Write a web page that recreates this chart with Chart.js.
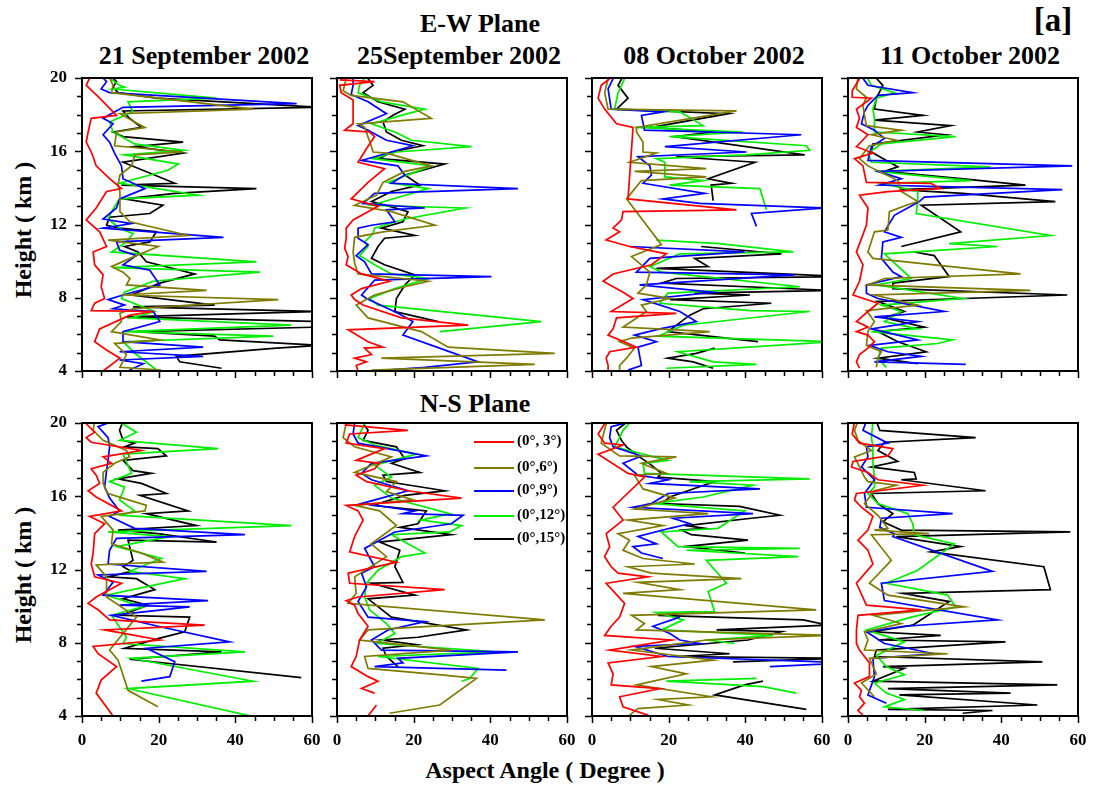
<!DOCTYPE html>
<html>
<head>
<meta charset="utf-8">
<script src="https://cdn.jsdelivr.net/npm/chart.js@4.4.1/dist/chart.umd.min.js"></script>
<style>
body { margin: 0; background: #fff; }
#wrap { position: relative; width: 1094px; height: 790px; font-family: "Liberation Serif", "Times New Roman", serif; font-weight: bold; color: #000; overflow: hidden; }
.t { position: absolute; white-space: nowrap; line-height: 1; transform: translateX(-50%); }
.ylab { position: absolute; white-space: nowrap; line-height: 1; font-size: 24px; transform: translate(-50%, -50%) rotate(-90deg); }
canvas { position: absolute; }
.leg { position: absolute; font-size: 15px; line-height: 1; white-space: nowrap; }
.leg span { display: inline-block; width: 40px; height: 0; border-top: 2px solid; vertical-align: middle; margin-right: 3px; }
</style>
</head>
<body>
<div id="wrap">
  <div class="t" style="left:480px;top:11px;font-size:26px;">E-W Plane</div>
  <div class="t" style="left:1053px;top:4px;font-size:33px;">[a]</div>
  <div class="t" style="left:475px;top:391px;font-size:26px;">N-S Plane</div>
  <div class="t" style="left:545px;top:758px;font-size:24px;">Aspect Angle ( Degree )</div>
  <div class="ylab" style="left:23px;top:230px;">Height ( km )</div>
  <div class="ylab" style="left:23px;top:575px;">Height ( km )</div>
</div>
<script>
// x ticks / y ticks
const angleTicks = [0, 20, 40, 60];
const heightTicks = [4, 8, 12, 16, 20];
const dates = ['21 September 2002', '25September 2002', '08 October 2002', '11 October 2002'];
const seriesLabels = ['(0°, 3°)', '(0°,6°)', '(0°,9°)', '(0°,12°)', '(0°,15°)'];
const seriesColors = ['#ff0000', '#7f7a00', '#0000ff', '#00ee00', '#000000'];

// profiles: pairs of height (km), aspect angle (deg); null,null = gap
// E-W plane, 21 Sep
const ew1Red = [20,2.0, 19.6,1.1, 18.9,4.6, 17.96,9.0, 17.8,2.4, 17.05,1.6, 16.5,1.1, 15.96,2.4, 15.7,2.9, 15.2,3.7, 14.5,7.2, 13.96,10.3, 13.8,6.4, 12.9,3.7, 12.25,1.1, 11.6,4.6, 10.8,6.4, 10.5,2.9, 9.8,3.3, 9.25,5.5, 8.6,5.0, 7.96,5.9, 7.7,3.3, 7.3,2.4, 7.25,18.6, 7.05,12.5, 6.3,4.6, 5.6,3.3, 5.15,6.4, 4.7,9.9, 4.0,5.5];
const ew1Olive = [20,7.2, 19.6,8.1, 19.2,7.7, 18.3,44.7, 18.05,9.9, 17.3,16.4, 17.05,9.0, 16.3,8.5, 15.96,26.4, 15.8,13.8, 15.2,12.9, 14.7,9.9, 14.15,9.4, 13.8,9.9, 12.7,9.9, 12.15,12.5, 11.4,27.7, 11.15,6.8, 10.8,19.9, 10.15,12.5, 9.7,7.7, 9.4,10.7, 9.05,12.5, 8.7,11.6, 8.4,32.5, 8.15,10.3, 7.9,51.2, 7.4,13.3, 7.15,9.9, 6.7,10.3, 6.15,7.7, 5.7,20.3, 5.5,8.5, 4.9,11.6, 4.2,9.9, 4.05,20.7];
const ew1Blue = [20,5.5, 19.8,6.4, 19.4,5.0, 19.2,7.2, 18.6,56.0, 18.4,10.7, 17.8,5.5, 17.5,8.1, 16.9,5.5, 16.5,7.2, 15.9,8.5, 15.2,10.3, 14.5,10.7, 13.96,16.4, 13.4,9.8, 12.9,9.0, 12.3,5.5, 12.05,12.9, 11.8,5.5, 11.3,36.9, 11.05,9.0, 10.6,9.8, 10.3,14.2, 9.8,10.7, 9.5,17.7, 8.7,20.3, 8.15,10.7, 7.9,6.8, 7.6,11.1, 7.4,8.1, 7.25,18.6, 6.7,20.3, 6.15,10.7, 5.6,10.7, 5.3,31.6, 5.05,9.8, 4.8,31.6, 4.6,9.8, 4.4,16.0, 4.05,12.4];
const ew1Green = [20,7.2, 19.6,9.8, 19.5,11.1, 19.4,8.1, 18.9,35.1, 18.7,12.0, 18.15,13.3, 17.6,7.2, 17.05,8.1, 16.4,13.7, 16.05,26.4, 15.8,11.1, 15.3,25.1, 14.96,22.4, 14.25,9.8, 14.05,16.8, 13.6,30.3, 13.4,9.8, 12.7,7.7, 12.3,6.8, 11.8,9.8, 11.5,13.3, 11.05,11.6, 10.5,7.7, 9.96,45.5, 9.65,8.1, 9.4,46.4, 8.9,18.5, 8.3,11.1, 7.96,10.3, 7.25,19.0, 6.9,12.9, 6.5,54.6, 6.15,11.1, 5.9,49.9, 5.6,10.7, 4.9,14.2, 4.0,19.8];
const ew1Black = [20,8.1, 19.8,9.0, 19.5,8.1, 19.2,9.4, 18.9,19.4, 18.4,62, 18.2,10.7, 17.8,12.4, 17.3,15.5, 17.05,8.1, 16.8,10.7, 16.5,26.4, 16.25,13.7, 15.9,26.4, 15.4,10.7, 14.25,24.2, 14.15,10.3, 13.96,45.5, 13.7,24.2, 13.4,11.1, 13.05,21.1, 12.6,17.7, 12.4,7.2, 11.96,6.4, 11.8,9.8, 11.6,19.4, 11.05,17.7, 10.8,11.1, 10.5,14.6, 9.96,16.8, 9.3,29.4, 8.8,20.3, 8.15,12.9, 7.6,34.6, 7.5,13.3, 7.25,62, 6.96,11.6, 6.7,62, 6.4,62, 6.15,14.2, 5.9,34.6, 5.7,35.9, 5.4,62, 5.25,50.7, 4.8,24.6, 4.5,25.5, 4.15,36.4];

// E-W plane, 25 Sep
const ew2Red = [19.9,0.7, 19.8,9.8, 19.6,0.7, 19.2,1.1, 18.8,4.2, 17.5,4.2, 17.3,2.9, 17.15,2.0, 17.05,8.5, 16.8,9.8, 16.15,7.7, 15.4,5.5, 15.05,12.4, 14.3,8.1, 13.4,3.7, 13.0,10.7, 12.25,4.2, 11.8,2.4, 11.25,2.4, 10.7,2.0, 10.25,2.9, 9.8,2.4, 9.3,6.4, 8.9,13.7, 8.5,6.4, 8.15,3.7, 7.9,4.6, 7.6,6.8, 6.9,16.8, 6.5,34.2, 6.25,2.9, 5.6,8.1, 5.3,12.0, 5.25,7.2, 4.9,9.0, 4.7,4.6, 4.5,7.7, 4.3,5.0, 4.0,5.5];
const ew2Olive = [19.96,2.4, 19.3,1.6, 19.05,3.7, 18.7,17.2, 17.8,24.6, 17.5,5.5, 17.3,7.2, 16.25,9.0, 15.96,9.4, 15.9,12.9, 15.2,24.6, 14.9,17.7, 14.3,12.0, 13.6,10.3, 13.05,4.6, 12.7,14.2, 11.96,25.5, 11.6,12.0, 11.3,4.6, 10.5,4.2, 9.9,4.6, 9.3,5.5, 8.9,23.8, 8.6,17.7, 8.15,9.8, 7.6,5.0, 6.9,8.1, 6.15,22.0, 5.3,29.0, 4.96,56.8, 4.7,11.6, 4.36,51.6, 4.05,9.0];
const ew2Blue = [20.1,4.2, 19.6,4.2, 19.1,3.7, 18.7,8.1, 18.05,12.9, 17.4,5.5, 17.15,8.1, 16.6,12.9, 16.3,19.8, 15.96,14.2, 15.5,6.4, 15.2,15.9, 14.7,17.7, 14.25,14.2, 13.96,47.2, 13.7,9.8, 13.15,6.8, 12.9,22.9, 12.8,12.9, 12.15,15.1, 11.96,9.0, 11.8,5.5, 11.25,5.5, 10.9,8.1, 10.3,5.0, 9.96,7.2, 9.3,9.0, 9.15,40.3, 8.96,9.8, 8.15,6.4, 7.96,7.7, 7.15,15.9, 6.7,19.8, 5.96,17.2, 4.5,36.8, 4.2,22.9, 4.05,12.9];
const ew2Green = [20,7.2, 19.6,5.9, 19.2,5.5, 18.7,11.6, 18.3,22.9, 17.96,16.8, 17.5,9.0, 17.05,15.1, 16.6,19.4, 16.25,35.1, 15.96,15.5, 15.6,9.4, 15.2,24.6, 14.3,13.3, 13.96,23.8, 13.05,9.0, 12.9,33.3, 12.3,17.7, 11.8,9.8, 11.5,9.4, 11.05,7.2, 10.8,8.1, 10.3,5.9, 9.8,9.8, 9.3,14.2, 9.05,23.8, 8.5,15.1, 7.96,8.5, 7.6,10.7, 6.7,53.3, 6.15,26.8];
const ew2Black = [19.96,8.1, 19.6,9.4, 19.2,6.8, 18.7,10.7, 18.3,17.7, 17.96,14.6, 17.6,12.0, 17.05,12.9, 16.6,16.8, 16.3,22.4, 15.96,14.2, 15.6,11.1, 15.3,28.1, 14.7,17.7, 14.15,21.6, 13.8,14.2, 13.25,9.0, 12.96,14.2, 12.7,18.5, 12.15,17.2, 11.8,11.6, 11.4,20.3, 11.25,12.4, 10.8,10.7, 10.15,9.0, 9.8,12.4, 9.25,20.3, 8.7,17.7, 7.96,15.5, 7.25,15.1, 6.7,26.4];

// E-W plane, 08 Oct
const ew3Red = [19.96,4.6, 19.6,2.4, 18.9,1.6, 18.3,3.3, 17.5,6.4, 17.3,10.7, 13.4,9.4, 12.8,37.7, 12.7,8.1, 12.25,7.7, 11.8,5.5, 11.6,7.2, 11.15,3.7, 10.8,9.8, 10.4,19.4, 9.8,15.5, 9.3,5.5, 8.9,2.9, 8.3,8.1, 7.96,10.7, 7.25,5.0, 7.15,22.0, 6.9,6.4, 6.3,5.5, 5.96,4.2, 5.3,11.6, 5.05,4.6, 4.7,3.7, 4.3,4.2, 4.05,4.2];
const ew3Olive = [19.96,4.2, 19.2,3.3, 18.3,4.2, 18.2,37.7, 17.3,11.6, 17.05,11.6, 16.5,13.3, 15.96,13.3, 15.9,16.8, 15.4,9.8, 15.05,29.8, 14.9,11.1, 14.6,29.8, 14.4,12.9, 13.4,9.0, 10.9,18.1, 10.25,10.3, 9.4,15.1, 8.7,14.2, 8.25,12.0, 7.96,20.3, 7.6,12.9, 7.25,14.2, 6.4,8.1, 6.15,30.7, 5.8,10.3, 5.6,7.2, 5.25,11.1, 4.7,9.0, 4.3,7.2, 4.05,7.2];
const ew3Blue = [19.96,5.5, 19.4,4.2, 18.3,5.0, 18.15,18.5, 17.96,12.9, 17.15,13.7, 16.9,54.6, 16.25,19.0, 15.96,40.3, 15.7,12.0, 15.2,15.1, 14.7,15.5, 14.25,13.3, 13.7,29.4, 13.4,18.5, 13.15,28.1, 12.9,60.7, 12.6,41.6, 11.9,42.9, null,null, 10.8,9.8, 10.5,39.8, 10.15,15.1, 9.4,11.6, 9.25,52.9, 8.7,12.4, 8.3,31.6, 7.9,13.3, 7.25,22.9, 6.7,27.2, 6.3,17.7, 5.96,11.1, 5.6,16.8, 5.3,12.0, 4.3,12.9, 4.05,9.4];
const ew3Green = [19.96,8.5, 19.2,6.8, 18.3,5.9, 18.15,22.9, 17.4,29.0, 17.3,11.1, 17.05,39.4, 16.8,20.3, 16.3,55.9, 16.05,56.8, 15.8,40.3, 15.6,16.8, 15.4,19.0, 14.6,19.0, 14.4,29.0, 14.15,20.3, 13.96,43.8, 12.8,45.5, null,null, 11.15,16.8, 10.96,33.3, 10.5,52.5, 10.4,22.9, 9.7,15.1, 9.4,18.1, 8.6,54.2, 8.25,19.8, 7.7,17.7, 7.3,41.2, 7.25,56.8, 6.5,23.8, 5.9,17.2, 5.6,62.9, 5.05,22.4, 4.5,31.6, 4.36,42.9, 4.15,19.4];
const ew3Black = [20.1,8.1, 19.6,6.8, 18.9,9.4, 18.3,6.4, 18.05,35.5, 17.3,15.5, 17.05,31.6, 16.8,21.6, 15.8,55.5, 15.7,22.0, 15.4,42.5, 14.5,30.3, 14.3,35.1, 14.25,36.4, 14.15,31.1, 13.3,31.6, null,null, 10.8,28.5, 10.4,49.4, 10.15,26.8, 9.7,30.3, 9.6,16.8, 9.15,66, 9.05,22.0, 8.8,18.1, 8.4,62.5, 8.25,26.8, 8.15,41.2, 7.9,20.3, 7.7,46.8, 7.4,29.0, 7.05,25.5, 6.15,19.8, 5.6,43.3, null,null, 5.25,32.0, 4.96,27.2, 4.7,19.8, 4.5,26.4, 4.15,31.6];

// E-W plane, 11 Oct
const ew4Red = [19.96,3.0, 19.3,1.1, 18.95,1.1, 18.9,6.1, 18.3,2.2, 17.8,3.0, 17.3,2.2, 16.9,5.2, 16.25,2.2, 15.9,6.5, 15.6,1.7, 15.2,3.9, 14.3,4.8, 14.25,21.6, 13.96,24.2, 13.8,10.4, 13.6,3.0, 12.9,5.2, 11.96,4.8, 10.5,2.2, 9.8,3.9, 8.9,3.0, 8.15,1.3, 7.7,7.8, 7.25,5.2, 6.7,2.2, 6.4,5.2, 6.15,2.2, 5.96,5.2, 5.6,6.9, 5.25,5.2, 4.9,3.0, 4.5,2.2, 4.15,3.0];
const ew4Olive = [20.1,2.6, 19.4,2.2, 18.95,4.8, 18.5,3.9, 17.96,4.3, 17.4,4.8, 17.15,13.9, 16.9,6.1, 16.6,12.6, 16.3,5.6, 15.6,3.0, 15.2,5.2, 14.4,13.0, 13.8,13.9, 13.25,18.2, 13.05,15.2, 12.7,10.8, 11.7,10.4, 11.6,6.9, 10.5,5.2, 10.15,6.5, 9.8,22.5, 9.3,45.0, 9.05,9.5, 8.7,5.2, 8.4,47.6, 8.15,6.9, 7.6,18.2, 7.3,4.8, 6.7,6.9, 6.15,5.2, 5.4,4.8, 5.05,8.7, 4.7,7.8, 4.2,7.4];
const ew4Blue = [20.1,3.5, 19.6,5.2, 19.2,16.9, 19.05,7.8, 18.5,5.2, 18.15,4.3, 17.5,3.5, 17.15,6.9, 16.7,9.5, 16.25,6.1, 15.5,5.2, 15.2,58.5, 14.9,7.8, 14.5,13.9, 14.15,8.2, 13.9,55.9, 13.5,19.9, 13.25,18.6, 12.5,12.1, 11.6,9.5, 11.3,13.9, 11.05,9.1, 10.15,8.7, 9.4,11.7, 9.15,13.9, 8.7,4.8, 8.25,4.8, 7.96,7.8, 7.25,25.1, 6.96,6.9, 6.7,18.2, 6.3,6.1, 5.7,18.2, 5.4,5.6, 5.05,10.4, 4.8,19.1, 4.5,6.9, 4.36,30.7];
const ew4Green = [20.1,4.8, 19.6,6.1, 19.2,12.1, 18.9,7.4, 18.3,6.5, 17.8,6.9, 17.05,6.9, 16.8,28.1, 16.4,8.7, 15.9,5.2, 15.4,6.1, 15.15,37.2, 14.9,7.4, 14.4,32.0, 14.25,8.7, 13.8,18.2, 13.3,18.2, 12.6,17.8, 11.4,52.8, 10.96,26.4, 10.8,39.0, 10.4,9.5, 9.05,16.5, 8.7,7.4, 7.96,29.9, 7.6,8.7, 7.25,13.9, 6.7,9.5, 6.3,18.2, 6.15,6.1, 5.7,27.3, 5.5,23.4, 5.25,8.7, 4.7,7.8, 4.2,10.0];
const ew4Black = [20.1,6.9, 19.6,9.1, 18.9,7.4, 18.3,6.9, 17.96,19.5, 17.7,6.9, 17.4,26.8, 17.05,18.2, 16.9,25.5, 16.4,6.5, 15.96,6.1, 15.4,10.8, 15.15,13.0, 14.9,9.5, 14.5,29.4, 14.15,46.3, 13.9,13.4, 13.7,29.9, 13.25,54.1, 13.05,19.1, 11.6,29.4, 10.8,13.9, null,null, 10.5,17.3, 10.3,22.5, 9.15,26.4, 8.8,11.7, 8.5,11.7, 8.15,57.2, 7.8,7.8, 7.25,14.7, 6.9,9.5, 6.4,19.9, 6.15,7.8, 5.6,13.0, 5.05,20.4, 4.7,7.8, 4.4,18.2];

// N-S plane, 21 Sep
const ns1Red = [19.96,1.1, 19.5,3.3, 19.2,1.1, 18.95,2.4, 18.5,15.5, 18.15,5.5, 17.8,7.7, 17.5,2.4, 17.15,3.7, 16.7,4.6, 16.3,1.6, 15.96,3.7, 15.2,10.3, 14.9,2.0, 14.5,5.9, 13.96,3.3, 12.9,2.9, 12.3,2.4, 11.6,3.3, 11.25,10.3, 10.5,3.7, 10.15,1.6, 9.8,4.2, 9.25,7.2, 8.96,32.0, 8.7,5.9, 8.15,20.3, 7.8,2.9, 7.4,4.2, 6.7,9.0, 5.96,5.0, 5.25,3.7, 4.0,8.1];
const ns1Olive = [20.1,3.3, 19.6,2.9, 19.05,5.5, 18.5,11.6, 18.15,12.4, 17.8,8.5, 17.3,5.5, 16.7,5.5, 16.15,6.8, 15.5,16.8, 15.2,16.4, 14.9,5.0, 14.15,8.1, 13.4,7.7, 12.9,15.5, 12.4,21.1, 12.25,3.7, 11.6,6.4, 10.5,6.4, 9.4,14.2, 8.6,11.1, 7.6,7.2, 7.05,9.4, 6.5,10.3, 5.4,12.0, 4.5,19.8];
const ns1Blue = [20.1,8.1, 19.8,4.2, 19.2,6.8, 18.7,7.2, 17.96,6.8, 17.4,6.4, 16.5,5.9, 15.9,7.2, 15.2,9.8, 14.9,7.2, 14.25,13.7, 13.9,42.5, 13.7,9.0, 13.05,7.2, 12.3,6.8, 11.9,32.5, 11.7,4.2, 11.3,8.1, 10.6,5.5, 10.3,32.9, 10.05,9.8, 9.96,28.1, 9.5,7.7, 8.9,19.8, 8.05,38.5, 7.7,16.8, 6.96,24.2, 6.15,22.9, 5.9,15.5];
const ns1Green = [20.1,9.4, 19.5,14.2, 19.05,9.8, 18.6,35.5, 18.3,10.7, 17.25,12.9, 16.8,7.2, 16.5,11.1, 15.8,9.8, 15.2,13.7, 14.96,10.3, 14.4,54.6, 14.05,6.8, 13.8,22.9, 13.25,9.0, 12.6,20.7, 11.9,12.4, 11.5,26.8, 10.6,6.4, 9.96,15.9, 9.5,7.7, 8.3,11.6, 7.96,10.7, 7.5,42.5, 7.15,12.9, 5.9,44.6, 5.5,12.0, 3.97,44.6];
const ns1Black = [20.1,10.7, 19.6,9.8, 19.05,10.7, 18.9,13.7, 18.7,11.1, 18.6,19.8, 18.2,22.0, 17.96,10.7, 17.4,13.3, 17.25,18.1, 16.95,9.4, 16.7,15.5, 16.15,22.0, 16.05,15.1, 15.2,27.7, 15.05,16.8, 14.4,29.8, 14.15,9.4, 13.96,19.8, 13.5,35.1, 13.6,12.0, 12.5,13.3, 12.15,10.7, 11.9,12.9, 11.6,6.8, 11.5,14.2, 10.9,19.0, 10.4,10.7, 10.05,17.2, 9.5,10.3, 9.4,28.1, 8.6,26.8, 8.25,20.3, 7.7,11.1, 7.5,36.4, 7.1,12.4, 6.1,57.2];

// N-S plane, 25 Sep
const ns2Red = [19.9,2.0, 19.6,18.5, 19.4,3.3, 18.9,2.4, 18.6,12.4, 17.96,5.0, 17.8,11.1, 17.5,9.8, 17.15,5.0, 16.8,7.7, 16.3,18.5, 15.9,32.5, 15.5,2.4, 15.2,5.5, 14.7,6.8, 13.8,4.6, 12.96,3.3, 12.4,15.5, 11.8,2.9, 11.25,3.3, 10.9,28.1, 10.5,5.5, 10.3,2.4, 10.05,4.6, 9.6,5.5, 8.9,8.1, 8.15,5.9, 7.25,5.0, 6.7,3.7, 6.15,8.1, 5.9,10.7, 5.5,6.4, 5.25,9.8, null,null, 4.6,10.3, 4.0,8.1];
const ns2Olive = [20,2.4, 19.2,1.6, 18.7,4.6, 18.15,14.2, 17.3,4.6, 16.8,15.5, 16.25,12.9, 15.8,19.8, 15.5,4.6, 15.2,11.1, 14.4,15.5, 13.4,8.9, 12.7,12.9, 11.6,4.6, 10.7,5.0, 10.15,2.9, 9.25,54.2, 8.7,8.1, 8.15,5.9, 7.6,29.8, 7.25,7.2, 6.6,8.1, 6.25,27.2, 6.05,36.4, 4.6,26.8, 4.15,13.7];
const ns2Blue = [20,4.6, 19.4,4.2, 18.9,5.5, 18.2,23.3, 17.8,9.0, 17.25,6.4, 16.9,9.0, 16.3,18.5, 15.6,6.4, 15.2,20.3, 15.05,17.2, 14.96,32.9, 14.5,29.8, 14.05,15.1, 13.15,7.2, 12.15,9.8, 11.8,6.4, 11.05,7.7, 10.25,5.5, 9.4,8.1, 9.15,22.9, 8.7,13.3, 8.15,9.0, 7.6,11.6, 7.5,47.2, 7.15,15.9, 6.9,17.2, 6.7,9.8, 6.5,44.2];
const ns2Green = [20,7.2, 19.2,5.5, 18.8,9.8, 18.3,20.7, 17.7,9.8, 17.05,14.2, 16.6,9.8, 15.9,14.2, 15.05,29.4, 14.7,22.0, 14.4,32.5, 14.05,29.4, 13.9,14.2, 12.9,22.9, 12.7,16.8, 11.96,10.7, 11.25,7.7, 10.5,7.2, 9.8,8.5, 9.05,12.9, 8.5,15.1, 7.96,10.3, 7.5,41.6, 7.25,10.7, 6.6,36.8, 6.05,34.6, 5.9,32.5];
const ns2Black = [20,6.8, 19.6,8.1, 19.05,6.8, 18.7,15.5, 18.05,17.7, 17.8,14.2, 17.3,21.6, 17.15,12.0, 16.8,12.9, 16.3,28.1, 16.05,17.7, 15.5,9.4, 15.2,23.3, 14.5,21.1, 14.3,16.4, 13.9,29.8, 13.5,11.1, 13.05,16.4, 12.15,15.1, 11.3,17.2, 11.25,9.0, 10.6,20.3, 10.4,8.1, 9.4,14.2, 8.7,33.8, 8.3,21.1, 8.15,11.6, 7.9,20.7, 7.7,12.0, 7.25,12.9, 6.7,15.9];

// N-S plane, 08 Oct
const ns3Red = [19.96,3.3, 19.4,1.6, 18.9,3.3, 18.8,8.1, 18.3,1.6, 17.25,9.4, 17.05,13.7, 15.4,5.5, 14.7,8.1, 13.96,3.7, 13.25,4.6, 12.7,3.3, 12.15,5.0, 11.8,6.8, 11.6,14.6, 11.25,3.7, 10.15,8.5, 9.4,7.2, 8.9,5.0, 8.4,3.3, 8.15,20.7, 7.6,4.6, 7.25,18.1, 6.9,4.2, 6.3,5.5, 5.7,5.0, 5.5,17.7, 5.05,7.2, 4.5,8.1, 4.05,14.6];
const ns3Olive = [19.96,3.7, 18.9,2.4, 18.2,7.2, 18.15,22.0, 17.8,12.9, 17.25,19.4, 17.15,11.1, 16.4,13.3, 15.9,21.6, 15.3,11.1, 15.05,30.3, 14.7,9.4, 14.4,18.5, 13.96,6.8, 13.6,9.8, 13.05,8.1, 12.6,13.3, 12.3,26.8, 12.15,9.4, 11.8,15.5, 11.5,39.0, 11.3,12.0, 10.9,22.9, 10.7,8.1, 9.8,58.5, 9.5,10.3, 9.05,13.7, 8.7,11.6, 8.4,62, 8.15,29.8, 7.6,10.3, 7.05,31.6, 6.7,15.5, 6.3,24.6, 5.7,11.6, 5.05,31.1, 4.9,17.2, 4.6,25.1, 4.4,12.0, 4.05,9.8];
const ns3Blue = [20.1,10.7, 19.8,5.0, 19.2,4.6, 18.7,5.5, 18.2,12.9, 17.8,8.1, 17.15,12.0, 16.9,19.8, 16.7,15.1, 16.4,43.8, 16.15,19.8, 15.6,15.5, 15.4,10.7, 15.05,42.0, 14.8,21.1, 14.5,25.5, 14.25,20.3, 13.8,12.0, 13.4,16.8, 13.25,10.7, 12.9,12.9, 12.6,18.5, null,null, 9.4,22.9, 8.9,15.9, 8.5,20.3, 8.15,22.9, 7.96,28.1, 7.8,11.1, 7.25,19.8, 6.9,67, 6.7,46.4];
const ns3Green = [20,9.8, 19.6,8.1, 19.05,6.8, 18.7,5.9, 17.96,19.8, 17.8,13.3, 17.25,13.7, 16.95,56.8, 16.8,25.5, 16.6,42.0, 15.96,29.0, 15.6,15.9, 15.2,39.8, 14.25,32.9, 14.05,18.1, 13.25,22.4, 13.15,54.2, 13.05,24.6, 12.7,53.8, 12.5,29.8, 11.25,35.1, 10.8,30.3, 9.7,32.0, 9.65,16.8, 9.25,23.8, 8.7,18.1, 8.4,47.2, 8.15,29.8, 7.96,37.2, null,null, 6.05,42.9, 5.9,19.4, 5.6,44.6, 5.25,53.3];
const ns3Black = [20.1,9.4, 19.6,6.4, 19.05,7.7, 18.7,9.0, 18.15,12.4, 17.7,15.5, 17.25,18.1, 17.05,17.2, 16.8,32.0, 15.96,20.3, 15.6,18.1, 15.45,38.5, 14.96,49.0, 14.8,41.6, 14.4,24.6, 14.25,29.4, 14.15,23.3, 13.9,25.9, 13.6,40.7, 13.25,24.2, 12.9,39.9, null,null, 9.7,26.8, 9.5,17.2, 9.25,55.1, 8.96,61.6, 8.7,32.5, 8.6,49.4, 8.15,40.7, 7.7,16.4, 7.4,35.9, 7.25,22.0, 7.15,64.2, 6.96,36.8, null,null, 5.9,44.6, 5.7,39.8, 5.15,32.0, 4.36,55.9];

// N-S plane, 11 Oct
const ns4Red = [19.96,1.6, 19.4,1.1, 18.9,3.0, 18.6,11.7, 18.2,10.4, 17.9,1.3, 17.6,0.9, 17.3,5.2, 16.9,7.8, 16.6,19.5, 16.15,2.2, 15.8,1.7, 15.4,3.5, 14.9,6.5, 14.15,5.2, 13.6,2.6, 13.05,5.2, 12.3,6.5, 11.25,2.2, 10.05,4.8, 9.8,19.1, 9.5,2.6, 8.7,2.2, 7.96,2.2, 7.6,3.0, 7.25,4.3, 6.9,5.6, 6.15,5.6, 5.8,1.7, 5.4,3.5, 5.05,3.0, 4.7,4.3, 4.3,2.6, 4.05,3.9];
const ns4Olive = [20.1,2.6, 19.6,1.7, 19.05,2.6, 18.5,6.1, 18.15,1.7, 17.6,3.0, 17.05,4.3, 16.8,5.2, 16.6,12.6, 16.3,6.9, 15.6,4.3, 14.96,7.8, 14.25,10.4, 14.15,6.9, 13.96,21.2, 13.9,6.1, 12.5,11.3, 11.25,5.6, 10.6,10.4, 9.96,30.3, 9.5,6.5, 9.05,13.9, 8.6,4.3, 8.15,5.2, 7.6,4.3, 7.4,26.0, 7.15,5.6, 6.3,7.4, 5.8,3.5, 5.05,6.9];
const ns4Blue = [20.1,4.8, 19.6,3.9, 18.9,10.4, 18.7,4.8, 18.15,5.2, 17.6,3.5, 16.9,6.9, 16.15,4.3, 15.4,4.8, 15.05,27.3, 14.8,8.7, 14.3,8.3, 13.96,12.1, 13.8,11.7, 11.9,37.7, 11.25,8.7, 10.3,9.5, 9.25,39.0, 8.9,14.7, 8.6,4.8, 7.96,9.5, 7.4,22.5, 7.15,6.5, 6.15,6.9, 5.15,5.2, 4.7,10.0];
const ns4Green = [20.1,6.5, 19.2,6.1, 18.7,6.5, 17.8,6.5, 17.05,6.9, 16.5,6.9, 16.15,5.2, 15.6,7.8, 15.05,15.6, 14.5,16.9, 13.9,17.3, 13.4,27.7, 11.96,18.2, 11.25,10.0, 10.6,26.0, 9.96,28.1, 9.4,16.5, 8.7,4.8, 8.05,14.7, 7.3,7.4, 6.7,10.0, 6.25,14.7, 5.8,6.9, 5.25,10.0, 4.9,14.7, 4.5,9.5, 4.3,19.9];
const ns4Black = [20.1,7.4, 19.6,8.3, 19.2,33.3, 18.95,9.5, 18.5,7.8, 17.9,13.0, 17.6,6.1, 17.3,17.3, 16.95,17.8, 16.9,13.9, 16.3,35.9, 16.15,6.1, 15.6,7.8, 15.05,11.7, 14.6,9.1, 14.15,13.9, 14.05,58.0, 13.8,12.6, 13.25,29.4, 12.96,21.6, 12.15,51.1, 10.9,52.8, 10.7,14.3, 10.25,26.4, 8.96,16.9, 8.6,6.5, 8.4,24.2, 8.15,7.8, 8.05,41.1, 7.6,7.4, 7.25,6.9, 6.96,50.7, 6.7,9.1, 6.6,14.7, 5.9,6.5, 5.7,54.6, 5.5,10.4, 5.25,42.4, 5.15,13.4, 4.6,49.4, 4.36,10.4, 4.3,37.7, 4.15,29.9];

const panels = [
  [ew1Red, ew1Olive, ew1Blue, ew1Green, ew1Black],
  [ew2Red, ew2Olive, ew2Blue, ew2Green, ew2Black],
  [ew3Red, ew3Olive, ew3Blue, ew3Green, ew3Black],
  [ew4Red, ew4Olive, ew4Blue, ew4Green, ew4Black],
  [ns1Red, ns1Olive, ns1Blue, ns1Green, ns1Black],
  [ns2Red, ns2Olive, ns2Blue, ns2Green, ns2Black],
  [ns3Red, ns3Olive, ns3Blue, ns3Green, ns3Black],
  [ns4Red, ns4Olive, ns4Blue, ns4Green, ns4Black]
];

const colLeft = [82, 337, 592, 848];
const rowTop = [78, 423];
const plotW = 230, plotH = 293;
const padL = 40, padT = 8, padR = 8, padB = 40;

function profile(a) {
  const pts = [];
  for (let i = 0; i < a.length; i += 2) {
    pts.push({ y: a[i], x: a[i + 1] });
  }
  return pts;
}

Chart.defaults.color = '#000';
Chart.defaults.font.family = '"Liberation Serif", "Times New Roman", serif';
Chart.defaults.font.weight = 'bold';

// frame plus outside tick marks (major every 4 km / 20 deg)
const framePlugin = {
  id: 'frame',
  afterDraw(chart) {
    const { ctx, chartArea: a, scales } = chart;
    ctx.save();
    ctx.strokeStyle = '#000';
    ctx.lineWidth = 2;
    ctx.strokeRect(a.left, a.top, a.right - a.left, a.bottom - a.top);
    ctx.lineWidth = 1.5;
    ctx.beginPath();
    for (let h = 4; h <= 20; h++) {
      const y = Math.round(scales.y.getPixelForValue(h)) + 0.5;
      const len = h % 4 === 0 ? 7 : 5;
      ctx.moveTo(a.left - len, y);
      ctx.lineTo(a.left, y);
    }
    for (let d = 0; d <= 60; d += 5) {
      const x = Math.round(scales.x.getPixelForValue(d)) + 0.5;
      const len = d % 20 === 0 ? 7 : 5;
      ctx.moveTo(x, a.bottom);
      ctx.lineTo(x, a.bottom + len);
    }
    ctx.stroke();
    ctx.restore();
  }
};

const wrap = document.getElementById('wrap');

dates.forEach((d, i) => {
  const el = document.createElement('div');
  el.className = 't';
  el.style.left = (colLeft[i] + plotW / 2 + 7) + 'px';
  el.style.top = '43px';
  el.style.fontSize = '26px';
  el.textContent = d;
  wrap.appendChild(el);
});

panels.forEach((series, p) => {
  const col = p % 4, row = Math.floor(p / 4);
  const cv = document.createElement('canvas');
  cv.width = plotW + padL + padR;
  cv.height = plotH + padT + padB;
  cv.style.left = (colLeft[col] - padL) + 'px';
  cv.style.top = (rowTop[row] - padT) + 'px';
  wrap.appendChild(cv);

  new Chart(cv, {
    type: 'scatter',
    data: {
      datasets: series.map((s, k) => ({
        label: seriesLabels[k],
        data: profile(s),
        showLine: true,
        borderColor: seriesColors[k],
        borderWidth: 1.7,
        pointRadius: 0,
        spanGaps: false
      }))
    },
    options: {
      responsive: false,
      animation: false,
      devicePixelRatio: 1,
      layout: { autoPadding: false, padding: { top: padT, right: padR, left: 0, bottom: 0 } },
      plugins: { legend: { display: false }, tooltip: { enabled: false } },
      scales: {
        x: {
          type: 'linear',
          min: 0, max: 60,
          afterBuildTicks: s => { s.ticks = angleTicks.map(v => ({ value: v })); },
          afterFit: s => { s.height = padB; s.paddingLeft = 0; s.paddingRight = 0; },
          grid: { display: false, drawTicks: false },
          border: { display: false },
          ticks: { display: row === 1, padding: 14, maxRotation: 0, font: { size: 17, weight: 'bold' } }
        },
        y: {
          type: 'linear',
          min: 4, max: 20,
          afterBuildTicks: s => { s.ticks = heightTicks.map(v => ({ value: v })); },
          afterFit: s => { s.width = padL; s.paddingTop = 0; s.paddingBottom = 0; },
          grid: { display: false, drawTicks: false },
          border: { display: false },
          ticks: { display: col === 0, padding: 15, font: { size: 17, weight: 'bold' } }
        }
      }
    },
    plugins: [framePlugin]
  });
});

// legend box inside the 25 September N-S panel
const legTop = [441, 467, 490, 515, 538];
seriesLabels.forEach((lab, k) => {
  const el = document.createElement('div');
  el.className = 'leg';
  el.style.left = '474px';
  el.style.top = (legTop[k] - 8) + 'px';
  el.innerHTML = '<span style="border-color:' + seriesColors[k] + '"></span>';
  el.appendChild(document.createTextNode(lab));
  wrap.appendChild(el);
});
</script>
</body>
</html>
